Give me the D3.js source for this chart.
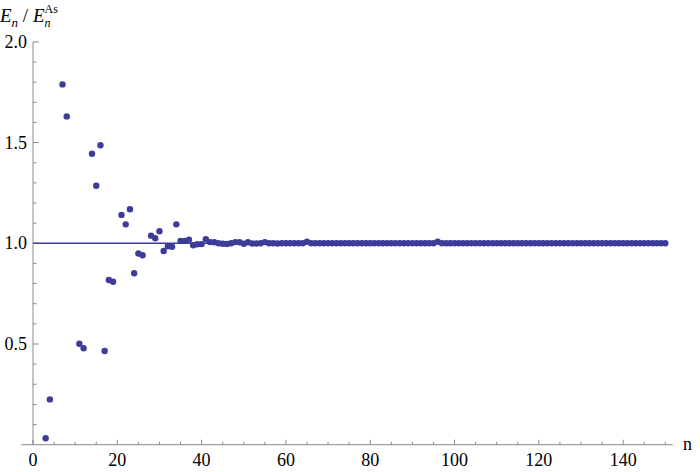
<!DOCTYPE html>
<html><head><meta charset="utf-8">
<script src="https://cdn.jsdelivr.net/npm/d3@7"></script>
<style>body{margin:0;background:#fff;}svg{display:block;}</style>
</head><body>
<svg id="c" width="700" height="472"></svg>
<script>
// n values and ratio E_n / E_n^
const earlyN = [3,4,7,8,11,12,14,15,16,17,18,19,21,22,23,24,25,26,28,29,30,31,32,33,34,35,36,37,38,39];
const earlyV = [0.032,0.225,1.789,1.630,0.501,0.479,1.445,1.286,1.487,0.465,0.818,0.809,1.141,1.094,1.169,0.851,0.949,0.941,1.038,1.025,1.060,0.962,0.985,0.983,1.094,1.012,1.012,1.018,0.990,0.995];
// n = 40 .. 150
const lateV = [0.996,1.020,1.006,1.005,1.000,0.998,0.997,1.000,1.006,1.005,0.998,1.005,0.999,0.999,1.000,1.006,1.000,1.000,0.999,1.000,
1.000,1.000,1.000,1.000,1.000,1.008,1.000,1.000,1.000,1.000,1.000,1.000,1.000,1.000,1.000,1.000,1.000,1.000,1.000,1.000,
1.000,1.000,1.000,1.000,1.000,1.000,1.000,1.000,1.000,1.000,1.000,1.000,1.000,1.000,1.000,1.000,1.008,1.000,1.000,1.000,
1.000,1.000,1.000,1.000,1.000,1.000,1.000,1.000,1.000,1.000,1.000,1.000,1.000,1.000,1.000,1.000,1.000,1.000,1.000,1.000,
1.000,1.000,1.000,1.000,1.000,1.000,1.000,1.000,1.000,1.000,1.000,1.000,1.000,1.000,1.000,1.000,1.000,1.000,1.000,1.000,
1.000,1.000,1.000,1.000,1.000,1.000,1.000,1.000,1.000,1.000,1.000];
const xMajor = [0,20,40,60,80,100,120,140];
const yMajor = [0.5,1.0,1.5,2.0];
const refLine = 1.0;

const data = earlyN.map((n,i)=>({n, v: earlyV[i]}))
  .concat(lateV.map((v,i)=>({n: 40+i, v})));

const svg = d3.select("#c");
const col = "#3d3d99";
const axisCol = "#8a8a8a";
const FONT = '"Liberation Serif"';

const x = d3.scaleLinear().domain([0,150]).range([33, 665.3]);
const y = d3.scaleLinear().domain([0,2]).range([444.7, 41.9]);

// axes lines
svg.append("line").attr("x1", x(-2.8)).attr("x2", x(151.8)).attr("y1", y(0)).attr("y2", y(0))
  .attr("stroke", axisCol).attr("stroke-width", 1);
svg.append("line").attr("x1", x(0)).attr("x2", x(0)).attr("y1", y(0)).attr("y2", y(2))
  .attr("stroke", axisCol).attr("stroke-width", 1);

// x ticks
const xt = d3.range(0, 151, 5);
svg.selectAll(".xt").data(xt).join("line")
  .attr("x1", d=>x(d)).attr("x2", d=>x(d))
  .attr("y1", y(0)).attr("y2", d=> y(0) - (d%20===0 ? 5 : 3))
  .attr("stroke", axisCol).attr("stroke-width", 1);
svg.selectAll(".xl").data(xMajor).join("text")
  .attr("x", d=>x(d)).attr("y", y(0)+21)
  .attr("text-anchor","middle").attr("font-family", FONT).attr("font-size", 18)
  .text(d=>d);

// y ticks
const yt = d3.range(1, 21).map(d=>d/10);
svg.selectAll(".yt").data(yt).join("line")
  .attr("x1", x(0)).attr("x2", d=> x(0) + (Math.abs(d*2 - Math.round(d*2))<1e-9 ? 6 : 3.5))
  .attr("y1", d=>y(d)).attr("y2", d=>y(d))
  .attr("stroke", axisCol).attr("stroke-width", 1);
svg.selectAll(".yl").data(yMajor).join("text")
  .attr("x", x(0)-6).attr("y", d=>y(d)+6)
  .attr("text-anchor","end").attr("font-family", FONT).attr("font-size", 18)
  .text(d=>d.toFixed(1));

// axis labels
svg.append("text").attr("x", 683).attr("y", y(0)+5).attr("font-family", FONT).attr("font-size", 18).text("n");
const lab = svg.append("text").attr("x", 0).attr("y", 22).attr("font-family", FONT).attr("font-size", 19);
lab.append("tspan").attr("font-style","italic").text("E");
lab.append("tspan").attr("font-style","italic").attr("font-size", 13).attr("dy", 5).text("n");
lab.append("tspan").attr("dy", -5).text(" / ");
lab.append("tspan").attr("font-style","italic").text("E");
lab.append("tspan").attr("font-style","italic").attr("font-size", 12).attr("dy", 5).text("n");
lab.append("tspan").attr("font-size", 12).attr("dx", -6).attr("dy", -14.5).text("As");

// reference line
svg.append("line").attr("x1", x(0)).attr("x2", x(150)).attr("y1", y(refLine)).attr("y2", y(refLine))
  .attr("stroke", col).attr("stroke-width", 1.6);

// points
svg.selectAll(".pt").data(data).join("circle")
  .attr("cx", d=>x(d.n)).attr("cy", d=>y(d.v)).attr("r", 3.2)
  .attr("fill", col);
</script>
</body></html>
